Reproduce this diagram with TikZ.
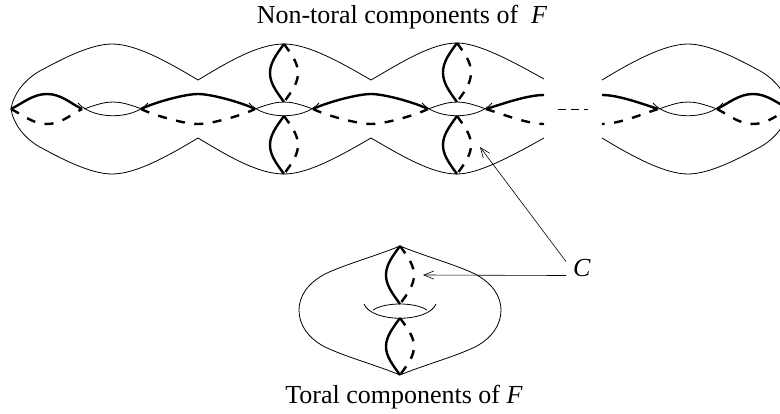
\documentclass[tikz,border=0pt]{standalone}
\usepackage{fontspec}
\setmainfont{Liberation Serif}
\usetikzlibrary{arrows.meta}
\begin{document}
\begin{tikzpicture}[
            x=1pt,
            y=-1pt,
            thinline/.style={draw=black, line width=0.8pt},
            solidloop/.style={draw=black, line width=2.4pt},
            dashloop/.style={draw=black, line width=2.4pt, dash pattern=on 9pt off 9.5pt},
            pointer/.style={draw=black, line width=0.6pt, -{Straight Barb[length=10pt,width=8pt,line width=0.6pt]}},
            label/.style={font=\fontsize{26}{30}\selectfont, inner sep=0pt, anchor=base}
        ]
        \useasboundingbox (0,0) rectangle (780,413);
        \clip (0,0) rectangle (780,413);
        \node[label] (title) at (402,23) {Non-toral components of\ \ \textit{F}};
        \node[label] (bottom) at (404,403) {Toral components of \textit{F}};
        \node[label] (C) at (582,276) {\textit{C}};
        % outer outline, left part
        \draw[thinline] (544,79) .. controls (510,60) and (478,43) .. (457,43)
            .. controls (432,43) and (402,62) .. (371,80)
            .. controls (340,62) and (308,44) .. (284,44)
            .. controls (258,44) and (228,62) .. (198,80)
            .. controls (168,62) and (136,44) .. (112,44)
            .. controls (90,44) and (60,60) .. (38,72)
            .. controls (22,82) and (13,96) .. (11,109)
            .. controls (13,122) and (22,136) .. (38,146)
            .. controls (60,158) and (90,174) .. (112,174)
            .. controls (136,174) and (168,156) .. (198,138)
            .. controls (228,156) and (258,174) .. (284,174)
            .. controls (308,174) and (340,156) .. (371,138)
            .. controls (402,156) and (432,174) .. (457,174)
            .. controls (478,174) and (510,157) .. (544,138);
        % outer outline, right part
        \draw[thinline] (602,80) .. controls (630,63) and (664,44) .. (688,44)
            .. controls (710,44) and (740,60) .. (762,72)
            .. controls (778,82) and (787,96) .. (789,109)
            .. controls (787,122) and (778,136) .. (762,146)
            .. controls (740,158) and (710,174) .. (688,174)
            .. controls (664,174) and (630,155) .. (602,138);
        \draw[thinline, dash pattern=on 8pt off 5pt] (558,109) -- (588,109);
        % holes
        \foreach \x in {113,284,457,688} {
            \draw[thinline] (\x-35,103) .. controls (\x-20,120) and (\x+20,120) .. (\x+35,103);
            \draw[thinline] (\x-29,109) .. controls (\x-15,104) and (\x-8,102) .. (\x,102)
                .. controls (\x+8,102) and (\x+15,104) .. (\x+29,109);
        }
        % long curves along the chain
        \foreach \a/\m/\b in {11/47/82,141/198/255,313/371/428,717/753/789} {
            \draw[solidloop] (\a,109) .. controls (\a+12,103) and (\m-14,94) .. (\m,94)
                .. controls (\m+14,94) and (\b-12,103) .. (\b,109);
            \draw[dashloop] (\a,109) .. controls (\a+12,115) and (\m-14,124) .. (\m,124)
                .. controls (\m+14,124) and (\b-12,115) .. (\b,109);
        }
        \draw[solidloop] (486,109) .. controls (505,103) and (528,95) .. (544,95);
        \draw[dashloop] (486,109) .. controls (505,115) and (528,124) .. (544,124);
        \draw[solidloop] (658,109) .. controls (640,103) and (618,95) .. (602,95);
        \draw[dashloop] (658,109) .. controls (640,115) and (618,124) .. (602,124);
        % meridians
        \foreach \x/\t/\b in {284/44/102,284/116/174,457/43/102,457/116/174,400/246/304,400/318/375} {
            \draw[solidloop] (\x,\t) .. controls (\x-8,\t+11) and (\x-14,\t+19) .. (\x-14,{(\t+\b)/2})
                .. controls (\x-14,\b-19) and (\x-8,\b-11) .. (\x,\b);
            \draw[dashloop, dash pattern=on 9pt off 9pt] (\x,\t) .. controls (\x+8,\t+11) and (\x+14,\t+19) .. (\x+14,{(\t+\b)/2})
                .. controls (\x+14,\b-19) and (\x+8,\b-11) .. (\x,\b);
        }
        % torus
        \draw[thinline] (400,246) .. controls (376,256) and (346,264) .. (325,274)
            .. controls (308,283) and (299,296) .. (299,310)
            .. controls (299,325) and (308,338) .. (325,347)
            .. controls (346,357) and (376,365) .. (400,375)
            .. controls (424,365) and (454,357) .. (475,347)
            .. controls (492,338) and (501,325) .. (501,310)
            .. controls (501,296) and (492,283) .. (475,274)
            .. controls (454,264) and (424,256) .. (400,246);
        \draw[thinline] (364,304) .. controls (372,323) and (428,323) .. (436,304);
        \draw[thinline] (373,310) .. controls (385,302) and (415,302) .. (427,310);
        % arrows
        \coordinate (tipa) at (480,147);
        \coordinate (tipb) at (423,275);
        \draw[pointer] ([shift={(-7,-6)}]C.west) -- (tipa);
        \draw[pointer] ([shift={(-7,8)}]C.west) -- (tipb);
    \end{tikzpicture}
\end{document}
